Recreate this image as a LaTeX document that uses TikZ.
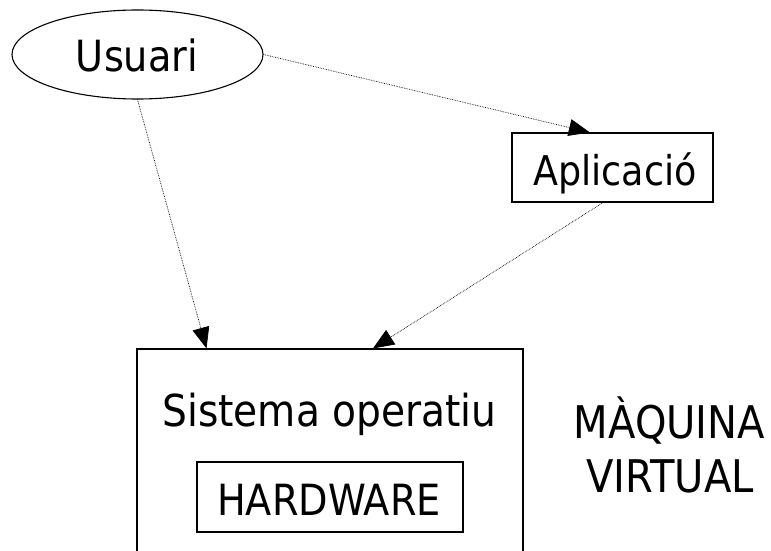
\documentclass[tikz,border=0pt]{standalone}
\usepackage{fontspec}
\setmainfont[FakeStretch=0.89]{DejaVu Sans}
\usetikzlibrary{shapes.geometric,arrows.meta,calc}
\tikzset{
  lbl/.style={inner sep=0pt, text height=32pt, text depth=0pt, font=\fontsize{43}{50}\selectfont},
  boxed/.style={draw, line width=1.1pt, inner sep=0pt},
  conn/.style={densely dotted, line width=0.7pt, -{Triangle[length=21pt,width=17pt]}}
}
\begin{document}
\begin{tikzpicture}[x=1pt,y=-1pt]
\useasboundingbox (0,0) rectangle (771,551);
\clip (0,0) rectangle (771,551);
% nodes
\node[ellipse, boxed, minimum width=251pt, minimum height=89pt] (usuari) at (137.5,54.5) {};
\node[lbl] (tusuari) at (137,56) {Usuari};
\node[boxed, minimum width=201pt, minimum height=69pt] (aplicacio) at (612.5,167.5) {};
\node[lbl, font=\fontsize{41}{48}\selectfont, text height=30pt] (taplicacio) at (615,170) {Aplicació};
\node[boxed, minimum width=386pt, minimum height=300pt] (so) at (330,499) {};
\node[lbl, font=\fontsize{44}{50}\selectfont, text height=34pt] (tso) at (329.5,409) {Sistema operatiu};
\node[boxed, minimum width=266pt, minimum height=70pt] (hw) at (330,497) {};
\node[lbl] (thw) at (329,499) {HARDWARE};
\node[lbl, font=\fontsize{45}{52}\selectfont, text height=31pt] (mq) at (669.5,422.5) {MÀQUINA};
\node[lbl, font=\fontsize{45}{52}\selectfont, text height=32pt] (vt) at (670,476) {VIRTUAL};
% connectors
\draw[conn] (usuari.east) -- ($(aplicacio.north west)!0.388!(aplicacio.north east)$);
\draw[conn] (usuari.south) -- ($(so.north west)!0.181!(so.north east)$);
\draw[conn] ($(aplicacio.south west)!0.453!(aplicacio.south east)$) -- ($(so.north west)!0.611!(so.north east)$);
\end{tikzpicture}
\end{document}
